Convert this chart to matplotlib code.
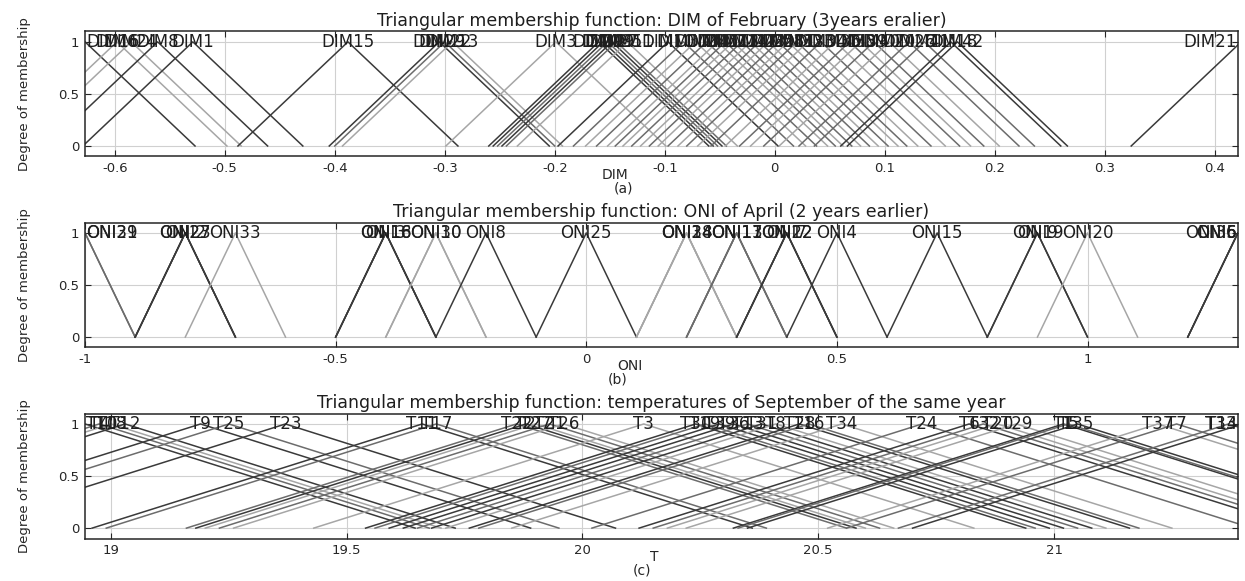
import matplotlib
matplotlib.use('agg')
import matplotlib.pyplot as plt

# ---- data ----
# (a) DIM of February
DIM_RANGE = [-0.627, 0.421]
DIM_TICKS = [-0.6, -0.5, -0.4, -0.3, -0.2, -0.1, 0, 0.1, 0.2, 0.3, 0.4]
DIM_HALF = 0.1
DIM_NAMES = ['DIM16', 'DIM6', 'DIM24', 'DIM8', 'DIM1', 'DIM15', 'DIM29', 'DIM22', 'DIM13', 'DIM3',
             'DIM30', 'DIM9', 'DIM19', 'DIM27', 'DIM35', 'DIM11', 'DIM10', 'DIM37', 'DIM2', 'DIM4',
             'DIM5', 'DIM7', 'DIM12', 'DIM14', 'DIM17', 'DIM23', 'DIM25', 'DIM28', 'DIM31', 'DIM32',
             'DIM33', 'DIM34', 'DIM36', 'DIM38', 'DIM39', 'DIM40', 'DIM20', 'DIM26', 'DIM41', 'DIM18',
             'DIM42', 'DIM21']
DIM_PEAKS = [-0.627, -0.598, -0.585, -0.561, -0.529, -0.388, -0.305, -0.300, -0.293, -0.199,
             -0.160, -0.156, -0.152, -0.148, -0.144, -0.134, -0.097, -0.083, -0.072, -0.062,
             -0.052, -0.045, -0.038, -0.030, -0.022, -0.014, -0.006, 0.003, 0.012, 0.020,
             0.030, 0.042, 0.055, 0.068, 0.078, 0.090, 0.104, 0.122, 0.136, 0.160,
             0.166, 0.424]

# (b) ONI of April
ONI_RANGE = [-1.0, 1.3]
ONI_TICKS = [-1, -0.5, 0, 0.5, 1]
ONI_HALF = 0.1
ONI_NAMES = ['ONI29', 'ONI31', 'ONI2', 'ONI23', 'ONI27', 'ONI33', 'ONI3', 'ONI16', 'ONI18', 'ONI10',
             'ONI30', 'ONI8', 'ONI25', 'ONI14', 'ONI28', 'ONI34', 'ONI11', 'ONI13', 'ONI17', 'ONI7',
             'ONI12', 'ONI22', 'ONI4', 'ONI15', 'ONI9', 'ONI19', 'ONI20', 'ONI5', 'ONI6', 'ONI36']
ONI_PEAKS = [-1.0, -1.0, -0.8, -0.8, -0.8, -0.7, -0.4, -0.4, -0.4, -0.3,
             -0.3, -0.2, 0.0, 0.2, 0.2, 0.2, 0.3, 0.3, 0.3, 0.4,
             0.4, 0.4, 0.5, 0.7, 0.9, 0.9, 1.0, 1.3, 1.3, 1.3]

# (c) temperatures of September
T_RANGE = [18.945, 21.39]
T_TICKS = [19, 19.5, 20, 20.5, 21]
T_HALF = 0.7
T_NAMES = ['T10', 'T4', 'T18', 'T12', 'T9', 'T25', 'T23', 'T11', 'T17', 'T22',
           'T2', 'T27', 'T21', 'T26', 'T3', 'T30', 'T19', 'T39', 'T36', 'T13',
           'T31', 'T8', 'T28', 'T16', 'T34', 'T24', 'T6', 'T32', 'T20', 'T29',
           'T1', 'T5', 'T35', 'T37', 'T7', 'T33', 'T14']
T_PEAKS = [18.945, 18.975, 19.00, 19.03, 19.19, 19.25, 19.37, 19.66, 19.69, 19.86,
           19.88, 19.90, 19.93, 19.96, 20.13, 20.24, 20.26, 20.29, 20.32, 20.35,
           20.38, 20.41, 20.46, 20.48, 20.55, 20.72, 20.82, 20.85, 20.88, 20.92,
           21.02, 21.03, 21.05, 21.22, 21.26, 21.37, 21.40]

# line shades (d dark, m medium, l light)
shade = {'d': '#3a3a3a', 'm': '#6c6c6c', 'l': '#a6a6a6'}
DIM_TONE = 'dllddddmll' + 'ddmdmldmlm' + 'lmlmlmlmlm' + 'lmlmlmlmmd' + 'dd'
ONI_TONE = 'mmdddlddd' + 'llddlllmm' + 'mddddddd' + 'lddd'
T_TONE = 'dmlddmddmm' + 'dlmlldmddm' + 'dldmlmdmll' + 'dmdlmmd'

panels = [
    ('Triangular membership function: DIM of February (3years eralier)', 'DIM', '(a)',
     DIM_RANGE, DIM_TICKS, DIM_HALF, DIM_NAMES, DIM_PEAKS, DIM_TONE, 0.7308, (0.460, 0.467)),
    ('Triangular membership function: ONI of April (2 years earlier)', 'ONI', '(b)',
     ONI_RANGE, ONI_TICKS, ONI_HALF, ONI_NAMES, ONI_PEAKS, ONI_TONE, 0.4019, (0.473, 0.462)),
    ('Triangular membership function: temperatures of September of the same year', 'T', '(c)',
     T_RANGE, T_TICKS, T_HALF, T_NAMES, T_PEAKS, T_TONE, 0.0731, (0.494, 0.483)),
]

fig = plt.figure(figsize=(12.45, 5.81), dpi=100)
axc = '#262626'
all_labels = []

for title, xlab, tag, xr, ticks, half, names, peaks, tone, bottom, (xl, xt) in panels:
    ax = fig.add_axes([0.0683, bottom, 0.926, 0.2151])
    for i, p in enumerate(peaks):
        ax.plot([p - half, p, p + half], [0, 1, 0], color=shade[tone[i]], lw=1.1)
    labels = []
    for n, p in zip(names, peaks):
        t = ax.text(p, 1.0, n, ha='center', va='center', fontsize=12, color='#1e1e1e', clip_on=False)
        labels.append(t)
    all_labels.append((ax, labels))

    ax.set_xlim(xr)
    ax.set_ylim(-0.1, 1.1)
    ax.set_xticks(ticks)
    ax.set_xticklabels(['%g' % v for v in ticks])
    ax.set_yticks([0, 0.5, 1])
    ax.set_yticklabels(['0', '0.5', '1'])
    ax.grid(True, color='#d0d0d0', lw=0.8)
    ax.set_axisbelow(True)
    ax.tick_params(direction='in', length=4, width=0.8, top=True, right=True,
                   labelsize=9.5, labelcolor=axc, color=axc, pad=4)
    for s in ax.spines.values():
        s.set_color(axc)
        s.set_linewidth(1.1)
    ax.set_title(title, fontsize=12.5, color='#1e1e1e', pad=4)
    ax.set_ylabel('Degree of membership', fontsize=9.5, color=axc)
    ax.yaxis.set_label_coords(-0.047, 0.5)
    ax.text(xl, -0.145, xlab, transform=ax.transAxes, ha='center', va='center', fontsize=10, color=axc)
    ax.text(xt, -0.255, tag, transform=ax.transAxes, ha='center', va='center', fontsize=10, color=axc)

# keep the set labels inside the box, as the original does
fig.canvas.draw()
r = fig.canvas.get_renderer()
for ax, labels in all_labels:
    box = ax.get_window_extent(r)
    for t in labels:
        bb = t.get_window_extent(r)
        dx = 0
        if bb.x0 < box.x0:
            dx = box.x0 - bb.x0 + 1
        elif bb.x1 > box.x1:
            dx = box.x1 - bb.x1 - 1
        if dx:
            x, y = t.get_position()
            px = ax.transData.transform((x, y))
            t.set_position(ax.transData.inverted().transform((px[0] + dx, px[1])))

plt.savefig('out.png', dpi=100, facecolor='white')
